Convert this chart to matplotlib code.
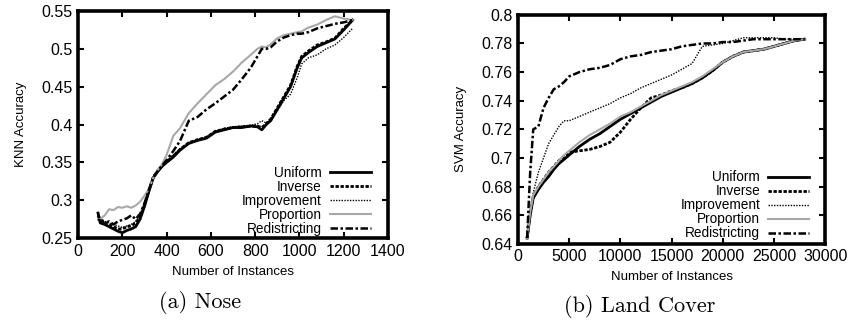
import matplotlib
matplotlib.use('Agg')
import matplotlib.pyplot as plt
from matplotlib.ticker import MultipleLocator, FormatStrFormatter

plt.rcParams['font.family'] = ['Liberation Sans', 'DejaVu Sans']

# ---- data ----
series_names = ['Uniform', 'Inverse', 'Improvement', 'Proportion', 'Redistricting']

# (a) Nose
nose_x = [90, 100, 120, 140, 160, 180, 200, 220, 240, 260, 280, 300, 320, 340, 360, 380,
          400, 430, 460, 500, 540, 580, 620, 660, 700, 740, 780, 810, 830, 850, 870, 900,
          930, 960, 990, 1010, 1040, 1080, 1120, 1160, 1200, 1240]
nose_uniform = [0.283, 0.270, 0.268, 0.265, 0.262, 0.259, 0.257, 0.260, 0.262, 0.265, 0.275,
                0.292, 0.312, 0.330, 0.338, 0.345, 0.350, 0.357, 0.366, 0.375, 0.379, 0.382,
                0.390, 0.393, 0.396, 0.396, 0.398, 0.397, 0.393, 0.400, 0.405, 0.420, 0.435,
                0.450, 0.475, 0.488, 0.495, 0.503, 0.508, 0.513, 0.525, 0.538]
nose_inverse = [0.280, 0.275, 0.270, 0.268, 0.265, 0.262, 0.262, 0.265, 0.266, 0.270, 0.278,
                0.294, 0.313, 0.331, 0.339, 0.346, 0.351, 0.358, 0.367, 0.376, 0.380, 0.383,
                0.391, 0.394, 0.396, 0.397, 0.398, 0.398, 0.396, 0.401, 0.407, 0.422, 0.437,
                0.452, 0.477, 0.490, 0.497, 0.505, 0.509, 0.514, 0.527, 0.538]
nose_improvement = [0.278, 0.276, 0.272, 0.270, 0.268, 0.266, 0.264, 0.266, 0.268, 0.272, 0.280,
                    0.295, 0.314, 0.331, 0.340, 0.346, 0.352, 0.360, 0.368, 0.376, 0.380, 0.384,
                    0.391, 0.395, 0.397, 0.398, 0.399, 0.401, 0.405, 0.402, 0.408, 0.418, 0.432,
                    0.440, 0.462, 0.480, 0.488, 0.492, 0.500, 0.505, 0.515, 0.527]
nose_proportion = [0.275, 0.275, 0.280, 0.288, 0.287, 0.291, 0.290, 0.292, 0.290, 0.293, 0.298,
                   0.306, 0.315, 0.330, 0.340, 0.348, 0.360, 0.385, 0.395, 0.415, 0.428, 0.440,
                   0.452, 0.460, 0.470, 0.482, 0.492, 0.500, 0.503, 0.502, 0.506, 0.514, 0.518,
                   0.520, 0.522, 0.523, 0.528, 0.532, 0.538, 0.543, 0.540, 0.538]
nose_redistricting = [0.275, 0.273, 0.270, 0.272, 0.268, 0.272, 0.274, 0.276, 0.280, 0.275, 0.282,
                      0.296, 0.314, 0.330, 0.339, 0.346, 0.353, 0.365, 0.378, 0.405, 0.410, 0.420,
                      0.428, 0.437, 0.446, 0.460, 0.475, 0.490, 0.500, 0.500, 0.502, 0.510, 0.515,
                      0.518, 0.520, 0.520, 0.522, 0.527, 0.530, 0.533, 0.535, 0.538]

# (b) Land Cover
land_x = [900, 1200, 1500, 2000, 2500, 3000, 3500, 4000, 4500, 5000, 6000, 7000, 8000, 9000,
          10000, 11000, 12000, 13000, 14000, 15000, 16000, 17000, 18000, 19000, 20000, 21000,
          22000, 23000, 24000, 25000, 26000, 27000, 28000]
land_uniform = [0.644, 0.660, 0.672, 0.678, 0.683, 0.687, 0.692, 0.696, 0.699, 0.702, 0.708,
                0.713, 0.717, 0.722, 0.727, 0.731, 0.735, 0.739, 0.743, 0.746, 0.749, 0.752,
                0.756, 0.761, 0.767, 0.771, 0.774, 0.775, 0.776, 0.778, 0.780, 0.782, 0.783]
land_inverse = [0.644, 0.662, 0.673, 0.680, 0.685, 0.690, 0.694, 0.698, 0.701, 0.704, 0.705,
                0.706, 0.708, 0.711, 0.718, 0.727, 0.735, 0.742, 0.744, 0.747, 0.749, 0.752,
                0.756, 0.761, 0.767, 0.771, 0.774, 0.775, 0.776, 0.778, 0.780, 0.782, 0.783]
land_improvement = [0.644, 0.662, 0.676, 0.690, 0.700, 0.710, 0.716, 0.722, 0.726, 0.726, 0.729,
                    0.732, 0.735, 0.738, 0.742, 0.745, 0.749, 0.752, 0.755, 0.758, 0.762, 0.766,
                    0.778, 0.779, 0.780, 0.782, 0.784, 0.784, 0.784, 0.784, 0.783, 0.783, 0.783]
land_proportion = [0.644, 0.662, 0.674, 0.680, 0.685, 0.690, 0.694, 0.698, 0.702, 0.705, 0.711,
                   0.716, 0.720, 0.724, 0.729, 0.732, 0.736, 0.740, 0.744, 0.747, 0.750, 0.753,
                   0.757, 0.762, 0.767, 0.771, 0.774, 0.775, 0.776, 0.778, 0.780, 0.782, 0.783]
land_redistricting = [0.644, 0.690, 0.720, 0.722, 0.735, 0.742, 0.748, 0.750, 0.753, 0.757, 0.760,
                      0.762, 0.763, 0.765, 0.769, 0.771, 0.772, 0.774, 0.775, 0.776, 0.778, 0.779,
                      0.780, 0.780, 0.781, 0.781, 0.782, 0.783, 0.783, 0.783, 0.783, 0.783, 0.783]

styles = {
    'Uniform': dict(color='black', lw=2.0, ls='-'),
    'Inverse': dict(color='black', lw=2.0, ls=(0, (1.2, 0.6))),
    'Improvement': dict(color='black', lw=1.0, ls=(0, (1, 1))),
    'Proportion': dict(color='#a8a8a8', lw=1.5, ls='-'),
    'Redistricting': dict(color='black', lw=1.8, ls=(0, (3, 1, 1, 1))),
}


def draw_panel(ax, x, ys, xlim, ylim, xstep, ystep, ylabel, leg_anchor):
    for name, y in zip(series_names, ys):
        ax.plot(x, y, label=name, **styles[name])
    ax.set_xlim(*xlim)
    ax.set_ylim(*ylim)
    ax.xaxis.set_major_locator(MultipleLocator(xstep))
    ax.yaxis.set_major_locator(MultipleLocator(ystep))
    ax.yaxis.set_major_formatter(FormatStrFormatter('%g'))
    ax.tick_params(direction='in', top=True, right=True, length=4, width=1.5,
                   labelsize=11.5, pad=4)
    for sp in ax.spines.values():
        sp.set_linewidth(2.6)
    ax.set_xlabel('Number of Instances', fontsize=9.5, labelpad=5)
    ax.set_ylabel(ylabel, fontsize=9.5, labelpad=10)
    ax.legend(loc='lower right', bbox_to_anchor=leg_anchor, frameon=False,
              markerfirst=False, fontsize=9.8, handlelength=3.0, labelspacing=0.0,
              handletextpad=0.6, borderaxespad=0, borderpad=0)


fig = plt.figure(figsize=(8.49, 3.23), dpi=100)
ax1 = fig.add_axes([0.092, 0.263, 0.365, 0.703])
ax2 = fig.add_axes([0.610, 0.245, 0.362, 0.709])

draw_panel(ax1, nose_x,
           [nose_uniform, nose_inverse, nose_improvement, nose_proportion, nose_redistricting],
           (0, 1400), (0.25, 0.55), 200, 0.05, 'KNN Accuracy', (0.945, 0.01))
draw_panel(ax2, land_x,
           [land_uniform, land_inverse, land_improvement, land_proportion, land_redistricting],
           (0, 30000), (0.64, 0.8), 5000, 0.02, 'SVM Accuracy', (0.948, 0.015))

fig.text(200 / 849, 1 - 302 / 323, '(a) Nose', family='cmr10', fontsize=16,
         ha='center', va='center')
fig.text(640 / 849, 1 - 306 / 323, '(b) Land Cover', family='cmr10', fontsize=16,
         ha='center', va='center')

fig.savefig('out.png', dpi=100)
